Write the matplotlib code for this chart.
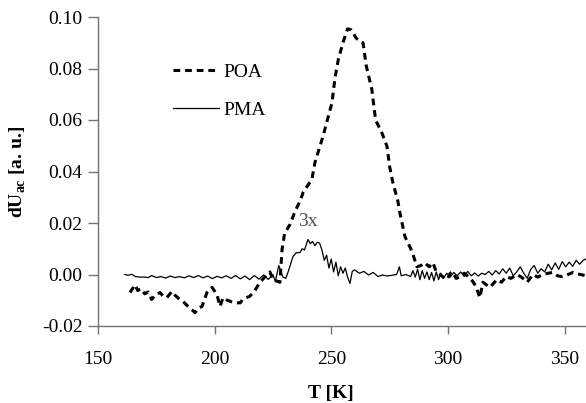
import matplotlib.pyplot as plt

# POA (dashed)
poa_T = [163.7, 165.9, 167, 168.5, 170, 171.5, 173, 174.5, 176.6, 178, 179.5, 181.7, 183, 185,
         186.5, 188.6, 190, 191.6, 193, 194.6, 196.7, 198.9, 201, 202.3, 203.6, 205, 206.6, 208,
         209.6, 211, 212, 213.5, 215, 217, 219.4, 221, 222.4, 223.7, 225, 226.5, 228, 228.9, 230,
         232.3, 234.4, 236.6, 238, 241.7, 243, 246.4, 250.3, 251.6, 253, 255, 257, 258.5, 259.3,
         260.5, 262.3, 263.6, 265, 267.4, 269, 271.7, 273.9, 275, 276.4, 278.6, 279.4, 281.6,
         284.6, 286.7, 288.5, 290, 292, 293.6, 295, 296.6, 298, 299.6, 301, 302, 303.5, 305, 307,
         309, 310.5, 312, 313.7, 315, 316.5, 318, 319.5, 321, 323, 325, 327, 329.6, 331.5, 334,
         336.4, 338.5, 340.7, 343, 345, 347, 349, 351, 353.6, 355.5, 357, 359]
poa_val = [-0.0070, -0.0040, -0.0062, -0.0055, -0.0075, -0.0068, -0.0097, -0.0080, -0.0070,
           -0.0085, -0.0090, -0.0066, -0.0080, -0.0097, -0.0105, -0.0124, -0.0135, -0.0148,
           -0.0130, -0.0124, -0.0070, -0.0050, -0.0078, -0.0124, -0.0090, -0.0098, -0.0104,
           -0.0108, -0.0110, -0.0110, -0.0097, -0.0090, -0.0085, -0.0066, -0.0030, -0.0015,
           0.0000, 0.0010, -0.0020, -0.0025, -0.0030, 0.0097, 0.0160, 0.0194, 0.0244, 0.0285,
           0.0320, 0.0370, 0.0435, 0.0535, 0.0667, 0.0764, 0.0834, 0.0900, 0.0954, 0.0950,
           0.0940, 0.0920, 0.0904, 0.0900, 0.0810, 0.0718, 0.0600, 0.0550, 0.0497, 0.0420,
           0.0357, 0.0283, 0.0240, 0.0147, 0.0090, 0.0030, 0.0035, 0.0046, 0.0030, 0.0046,
           0.0010, 0.0000, -0.0010, -0.0020, 0.0005, 0.0010, -0.0015, -0.0010, 0.0005, -0.0010,
           -0.0025, -0.0046, -0.0090, -0.0030, -0.0040, -0.0050, -0.0035, -0.0020, -0.0030,
           -0.0008, -0.0015, 0.0000, -0.0010, -0.0030, 0.0000, -0.0010, 0.0000, 0.0005, 0.0008,
           -0.0005, -0.0008, -0.0002, 0.0008, 0.0002, 0.0000, -0.0005]

# PMA (solid, shown 3x)
pma_T = [161.5, 163, 164.5, 166, 168, 170, 171.5, 173, 175, 177, 179, 181, 183, 185, 187, 189,
         191, 193, 195, 197, 199, 201, 203, 205, 207, 209, 211, 213, 215, 217, 219, 221, 223,
         225, 226, 227.5, 229.3, 230.5, 231.5, 233.6, 235, 236.6, 237.5, 238.5, 240, 241, 242,
         243, 244, 245, 246, 247, 248, 249, 250, 251, 252, 253, 254, 255, 256, 257, 258, 259,
         260, 262, 264, 266, 268, 270, 272, 274, 276, 278, 279.2, 280, 282, 284, 285, 286, 287,
         288, 289, 290, 291, 292, 293, 294, 295, 296, 297, 298, 299.5, 301, 302.5, 304, 305.5,
         307, 308.5, 310, 311.5, 313, 314.5, 316, 317.5, 319, 320.5, 322, 323.5, 325, 326.5,
         328, 329.5, 331, 332.5, 334, 335.5, 337, 338.5, 340, 341.5, 343, 344.5, 346, 347.5,
         349, 350.5, 352, 353.5, 355, 356.5, 358, 359.5]
pma_val = [0.0000, -0.0003, 0.0001, -0.0008, -0.0010, -0.0010, -0.0012, -0.0004, -0.0012,
           -0.0008, -0.0014, -0.0006, -0.0012, -0.0008, -0.0013, -0.0005, -0.0012, -0.0004,
           -0.0013, -0.0006, -0.0016, -0.0007, -0.0013, -0.0005, -0.0015, -0.0004, -0.0017,
           -0.0006, -0.0020, -0.0004, -0.0018, -0.0002, -0.0019, 0.0000, -0.0028, 0.0035,
           -0.0010, -0.0015, 0.0010, 0.0070, 0.0085, 0.0085, 0.0100, 0.0095, 0.0136, 0.0120,
           0.0128, 0.0112, 0.0125, 0.0122, 0.0095, 0.0055, 0.0075, 0.0025, 0.0060, 0.0010,
           0.0048, -0.0005, 0.0030, 0.0005, 0.0025, -0.0010, -0.0035, 0.0012, 0.0018, 0.0005,
           0.0012, -0.0002, 0.0008, -0.0008, -0.0002, -0.0006, -0.0003, 0.0000, 0.0030, -0.0005,
           0.0000, -0.0008, 0.0015, -0.0010, 0.0020, -0.0020, 0.0015, -0.0015, 0.0010, -0.0020,
           0.0008, -0.0025, 0.0010, -0.0020, 0.0005, -0.0015, 0.0005, -0.0010, 0.0008, -0.0005,
           0.0010, -0.0008, 0.0012, -0.0005, 0.0006, -0.0006, 0.0005, 0.0000, 0.0012, -0.0002,
           0.0015, 0.0002, 0.0022, 0.0005, 0.0025, -0.0005, 0.0010, 0.0030, 0.0005, -0.0015,
           0.0020, 0.0035, 0.0005, 0.0022, 0.0010, 0.0040, 0.0018, 0.0045, 0.0020, 0.0050,
           0.0030, 0.0048, 0.0032, 0.0055, 0.0040, 0.0055, 0.0062]

x_ticks = [150, 200, 250, 300, 350]
y_ticks = [-0.02, 0.00, 0.02, 0.04, 0.06, 0.08, 0.10]

plt.rcParams['font.family'] = ['Liberation Serif', 'DejaVu Serif']
plt.rcParams['font.size'] = 14
plt.rcParams['mathtext.fontset'] = 'custom'
plt.rcParams['mathtext.rm'] = 'Liberation Serif'
plt.rcParams['mathtext.bf'] = 'Liberation Serif:bold'

fig = plt.figure(figsize=(5.86, 4.03), dpi=100)
ax = fig.add_axes([98 / 586, 77 / 403, 488 / 586, 309 / 403])

ax.plot(poa_T, poa_val, color='black', lw=2.2, linestyle=(0, (2.2, 1.6)), label='POA')
ax.plot(pma_T, pma_val, color='black', lw=0.9, label='PMA')

ax.set_xlim(150, 359.2)
ax.set_ylim(-0.02, 0.10)
ax.set_xticks(x_ticks)
ax.set_yticks(y_ticks)
ax.set_yticklabels([f"{v:.2f}" for v in y_ticks])

for s in ['top', 'right']:
    ax.spines[s].set_visible(False)
for s in ['left', 'bottom']:
    ax.spines[s].set_color('0.45')
    ax.spines[s].set_linewidth(1.0)
ax.tick_params(axis='both', direction='out', color='0.45', width=1.0, labelsize=14, pad=4)
ax.tick_params(axis='y', length=7)
ax.tick_params(axis='x', length=6, pad=12)

ax.text(240, 0.0205, '3x', ha='center', va='center', fontsize=14, color='0.3')

ax.set_xlabel('T [K]', fontweight='bold', fontsize=14)
ax.xaxis.set_label_coords((250 - 150) / (359.2 - 150), -0.19)
ax.set_ylabel(r'dU$_{\mathbf{ac}}$ [a. u.]', fontweight='bold', fontsize=14)
ax.yaxis.set_label_coords(-0.143, 0.5)

ax.legend(frameon=False, loc='upper left', bbox_to_anchor=(0.117, 0.907), handlelength=2.4,
          handletextpad=0.2, labelspacing=1.05, fontsize=14)

fig.savefig('out.png', dpi=100)
